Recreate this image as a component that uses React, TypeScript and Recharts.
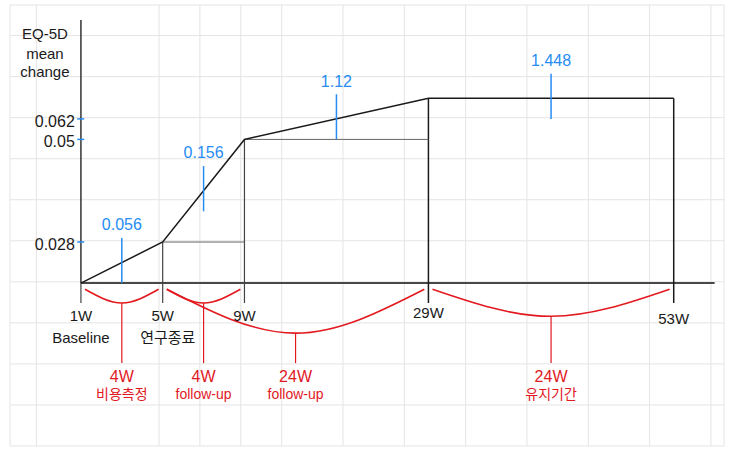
import { ComposedChart, Line, XAxis, YAxis, CartesianGrid, ReferenceLine, ReferenceDot } from 'recharts';

// visits along the time axis
const weeks = ['1W', '5W', '9W', '29W', '53W'];
const weekNotes = ['Baseline', '연구종료', '', '', ''];
// where each visit sits on the sketch (in grid cells from 1W)
const xPos = [0, 4, 8, 17, 29];
// height of the mean-change line as drawn (grid cells)
const level = [0, 2, 7, 9, 9];

const yTickPos = [2, 7, 8];
const yTickLabels = ['0.028', '0.05', '0.062'];

// blue values written on each stretch of the line
const segmentNotes = ['0.056', '0.156', '1.12', '1.448'];

// red brackets under the axis
const spanFrom = ['1W', '5W', '5W', '29W'];
const spanTo = ['5W', '9W', '29W', '53W'];
const spanLength = ['4W', '4W', '24W', '24W'];
const spanNote = ['비용측정', 'follow-up', 'follow-up', '유지기간'];

// hand-drawn look: bracket depths and small label drops
const ARC_DEPTH = [0.97, 0.97, 2.44, 1.62];
const WEEK_LABEL_Y = [-1.58, -1.58, -1.58, -1.46, -1.75];
const X_DOMAIN = [-3.47, 31.46];
const Y_DOMAIN = [-7.94, 13.55];
const gridX = Array.from({ length: 35 }, (_, k) => -3.18 + k);
const gridY = Array.from({ length: 22 }, (_, k) => 13.06 - k);

const FONT = "'Liberation Sans', Arial, 'Noto Sans CJK KR', sans-serif";
const BLUE = '#268cf2';
const RED = '#e2191f';
const INK = '#1a1a1a';

const mainData = weeks.map((w, i) => ({ x: xPos[i], y: level[i], week: w }));
const posOf = (w: string) => xPos[weeks.indexOf(w)];

function txt(key: string, x: number, y: number, value: string, fill: string, fontSize: number, position: any = 'center', offset = 0) {
  return (
    <ReferenceDot
      key={key}
      x={x}
      y={y}
      r={0}
      fill="none"
      stroke="none"
      label={{ value, position, offset, fill, fontSize, fontFamily: FONT }}
    />
  );
}

export default function App() {
  return (
    <div style={{ position: 'absolute', left: 0, top: 0, width: 737, height: 457, background: '#fff' }}>
      <ComposedChart width={737} height={457} margin={{ top: 5, right: 13, bottom: 11, left: 10 }}>
        <CartesianGrid stroke="#e4e4e4" strokeWidth={1} />
        <XAxis type="number" dataKey="x" domain={X_DOMAIN} ticks={gridX} hide allowDataOverflow />
        <YAxis type="number" domain={Y_DOMAIN} ticks={gridY} hide allowDataOverflow />

        {/* axes */}
        <ReferenceLine segment={[{ x: 0, y: 0 }, { x: 0, y: 12.82 }]} stroke="#333" strokeWidth={1.5} />
        <ReferenceLine segment={[{ x: 0, y: 0 }, { x: 31, y: 0 }]} stroke="#484848" strokeWidth={2} />

        {/* y ticks */}
        {yTickPos.map((v, i) => (
          <ReferenceLine key={'yt' + i} segment={[{ x: -0.18, y: v }, { x: 0.16, y: v }]} stroke={BLUE} strokeWidth={1.5} />
        ))}
        {yTickPos.map((v, i) => txt('yl' + i, -0.3, v - 0.1, yTickLabels[i], INK, 16, 'left', 0))}

        {/* y axis title */}
        {txt('t1', -1.76, 12.13, 'EQ-5D', INK, 15)}
        {txt('t2', -1.76, 11.2, 'mean', INK, 15)}
        {txt('t3', -1.76, 10.28, 'change', INK, 15)}

        {/* drop lines and ticks under the axis */}
        {weeks.map((w, i) => (
          <ReferenceLine
            key={'v' + w}
            segment={[{ x: xPos[i], y: level[i] }, { x: xPos[i], y: -0.97 }]}
            stroke={i >= 3 ? INK : '#444'}
            strokeWidth={i >= 3 ? 1.5 : 1.2}
          />
        ))}
        {weeks.slice(1, -1).map((w, j) => {
          const i = j + 1;
          if (level[i + 1] === level[i]) return null;
          return (
            <ReferenceLine
              key={'h' + w}
              segment={[{ x: xPos[i], y: level[i] }, { x: xPos[i + 1], y: level[i] }]}
              stroke="#666"
              strokeWidth={1}
            />
          );
        })}

        {/* week labels */}
        {weeks.map((w, i) => txt('wl' + w, xPos[i], WEEK_LABEL_Y[i], w, INK, 15))}
        {weekNotes.map((n, i) => (n ? txt('wn' + i, xPos[i] + (i === 1 ? 0.25 : 0), -2.68, n, INK, 15) : null))}

        {/* mean change line */}
        <Line
          data={mainData}
          dataKey="y"
          type="linear"
          stroke={INK}
          strokeWidth={1.5}
          dot={false}
          activeDot={false}
          isAnimationActive={false}
        />

        {/* blue segment notes */}
        {segmentNotes.map((n, i) => {
          const mid = (xPos[i] + xPos[i + 1]) / 2;
          const h = (level[i] + level[i + 1]) / 2;
          return (
            <ReferenceLine
              key={'bt' + i}
              segment={[{ x: mid, y: h - 1.0 }, { x: mid, y: h + 1.2 }]}
              stroke={BLUE}
              strokeWidth={1.5}
            />
          );
        })}
        {segmentNotes.map((n, i) => {
          const mid = (xPos[i] + xPos[i + 1]) / 2;
          const h = (level[i] + level[i + 1]) / 2;
          return txt('bn' + i, mid, h + 1.85, n, BLUE, 16);
        })}

        {/* red brackets */}
        {spanFrom.map((f, i) => {
          const a = posOf(f);
          const b = posOf(spanTo[i]);
          const arc = [
            { x: a + 0.2, y: -0.3 },
            { x: (a + b) / 2, y: -ARC_DEPTH[i] },
            { x: b - 0.2, y: -0.3 },
          ];
          return (
            <Line
              key={'arc' + i}
              data={arc}
              dataKey="y"
              type="natural"
              stroke={RED}
              strokeWidth={1.6}
              dot={false}
              activeDot={false}
              isAnimationActive={false}
            />
          );
        })}
        {spanFrom.map((f, i) => {
          const mid = (posOf(f) + posOf(spanTo[i])) / 2;
          return (
            <ReferenceLine
              key={'st' + i}
              segment={[{ x: mid, y: -ARC_DEPTH[i] }, { x: mid, y: -3.9 }]}
              stroke={RED}
              strokeWidth={1.2}
            />
          );
        })}
        {spanFrom.map((f, i) => {
          const mid = (posOf(f) + posOf(spanTo[i])) / 2;
          return txt('sl' + i, mid, -4.55, spanLength[i], RED, 16);
        })}
        {spanFrom.map((f, i) => {
          const mid = (posOf(f) + posOf(spanTo[i])) / 2;
          return txt('sn' + i, mid, -5.4, spanNote[i], RED, 14);
        })}
      </ComposedChart>
    </div>
  );
}
